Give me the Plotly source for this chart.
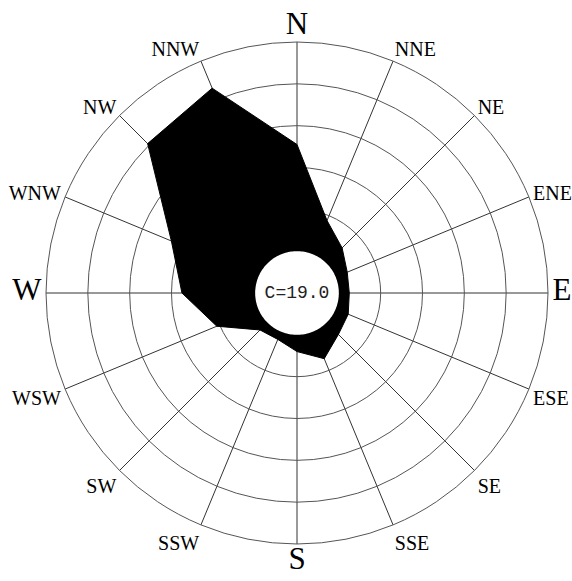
import plotly.graph_objects as go

# ---- data ----
directions = ["N", "NNE", "NE", "ENE", "E", "ESE", "SE", "SSE",
              "S", "SSW", "SW", "WSW", "W", "WNW", "NW", "NNW"]
frequency = [10.2, 3.5, 2.1, 1.2, 1.0, 1.3, 1.6, 2.8,
             1.6, 0.8, 1.0, 4.3, 7.0, 9.0, 16.2, 17.2]   # % per direction
calm_label = "C=19.0"
ring_values = [0, 4, 8, 12, 16]
radial_max = 20
center_offset = -4   # calm circle occupies one ring step

angles = [i * 360 / len(directions) for i in range(len(directions))]
cardinals = {"N", "E", "S", "W"}
ticktext = [
    f"<span style='font-size:31px'>{d}</span>" if d in cardinals else d
    for d in directions
]

fig = go.Figure()

# wind-frequency polygon
fig.add_trace(go.Scatterpolar(
    r=frequency + [frequency[0]],
    theta=angles + [angles[0]],
    mode="lines",
    fill="toself",
    fillcolor="black",
    line=dict(color="black", width=1),
    hoverinfo="skip",
    showlegend=False,
))

# calm circle (white disk)
disk_theta = [i * 2 for i in range(181)]
fig.add_trace(go.Scatterpolar(
    r=[0] * len(disk_theta),
    theta=disk_theta,
    mode="lines",
    fill="toself",
    fillcolor="white",
    line=dict(color="white", width=0),
    hoverinfo="skip",
    showlegend=False,
))

# calm label
fig.add_trace(go.Scatterpolar(
    r=[center_offset],
    theta=[0],
    mode="text",
    text=[calm_label],
    textfont=dict(family="Liberation Mono, monospace", size=18, color="#222"),
    hoverinfo="skip",
    showlegend=False,
))

fig.update_layout(
    width=572,
    height=581,
    margin=dict(l=46, r=24, t=42, b=37),
    paper_bgcolor="white",
    plot_bgcolor="white",
    showlegend=False,
    polar=dict(
        bgcolor="white",
        angularaxis=dict(
            rotation=90,
            direction="clockwise",
            tickmode="array",
            tickvals=angles,
            ticktext=ticktext,
            tickfont=dict(family="Liberation Serif, serif", size=20, color="black"),
            ticks="",
            showline=True,
            linecolor="#555",
            linewidth=1,
            showgrid=True,
            gridcolor="#333",
            gridwidth=1,
        ),
        radialaxis=dict(
            range=[center_offset, radial_max],
            tickmode="array",
            tickvals=ring_values,
            showticklabels=False,
            ticks="",
            showline=False,
            showgrid=True,
            gridcolor="#555",
            gridwidth=1,
        ),
    ),
)

# remove the default page margin so the figure fills the 572x581 window exactly
fig.write_html(
    "out.html",
    config={"displayModeBar": False},
    post_script="document.body.style.margin='0';document.body.style.overflow='hidden';",
)
